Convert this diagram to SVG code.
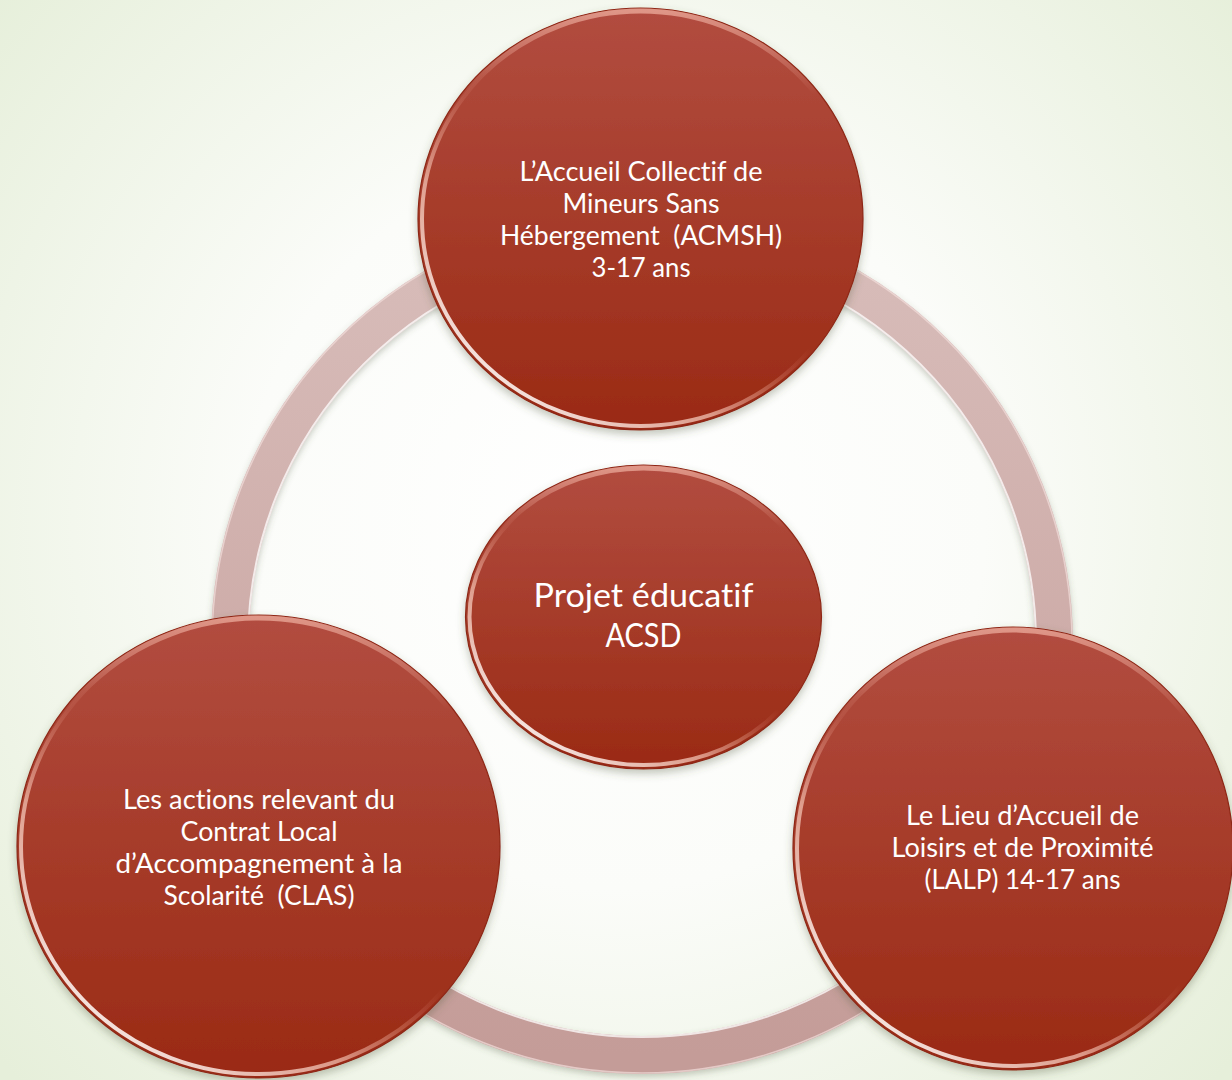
<svg xmlns="http://www.w3.org/2000/svg" width="1232" height="1080" viewBox="0 0 1232 1080">
  <defs>
    <radialGradient id="bg" cx="616" cy="520" r="820" gradientUnits="userSpaceOnUse">
      <stop offset="0" stop-color="#FFFFFF"/>
      <stop offset="0.45" stop-color="#FBFCF9"/>
      <stop offset="1" stop-color="#E6EFDA"/>
    </radialGradient>
    <linearGradient id="fillRed" x1="0" y1="0" x2="0" y2="1">
      <stop offset="0" stop-color="#B24D40"/>
      <stop offset="1" stop-color="#9A2A14"/>
    </linearGradient>
    <linearGradient id="rimLight" x1="0.1" y1="0.9" x2="0.8" y2="0.1">
      <stop offset="0" stop-color="#FFFFFF" stop-opacity="0.95"/>
      <stop offset="0.3" stop-color="#F6C6B6" stop-opacity="0.7"/>
      <stop offset="0.55" stop-color="#E08A78" stop-opacity="0"/>
    </linearGradient>
    <linearGradient id="rimTop" x1="0" y1="0" x2="0" y2="1">
      <stop offset="0" stop-color="#E7A394" stop-opacity="0.85"/>
      <stop offset="0.2" stop-color="#E7A394" stop-opacity="0"/>
    </linearGradient>
    <linearGradient id="ringGrad" x1="0" y1="0" x2="0" y2="1">
      <stop offset="0" stop-color="#D8BDBA"/>
      <stop offset="1" stop-color="#C49C98"/>
    </linearGradient>
    <filter id="shadow" x="-20%" y="-20%" width="140%" height="140%">
      <feDropShadow dx="0" dy="4" stdDeviation="4" flood-color="#4E5A3C" flood-opacity="0.35"/>
    </filter>
    <filter id="ringShadow" x="-10%" y="-10%" width="120%" height="120%">
      <feDropShadow dx="0" dy="3" stdDeviation="3" flood-color="#4E5A3C" flood-opacity="0.3"/>
    </filter>
  </defs>
  <style>
    .disc { fill: url(#fillRed); stroke: #8E2614; stroke-width: 1.2; }
    .rim { fill: none; stroke: url(#rimLight); stroke-width: 4; }
    .rimTop { fill: none; stroke: url(#rimTop); stroke-width: 5; }
    .lbl { font-family: Lato, "Open Sans", "Liberation Sans", sans-serif; font-size: 26px; fill: #FFFFFF; text-anchor: middle; white-space: pre; font-variant-ligatures: none; font-feature-settings: "liga" 0, "clig" 0; }
    .big { font-size: 32px; }
  </style>

  <rect x="0" y="0" width="1232" height="1080" fill="url(#bg)"/>

  <g id="connectors">
    <circle cx="642" cy="643" r="412" fill="none" stroke="url(#ringGrad)" stroke-width="38" filter="url(#ringShadow)"/>
    <circle cx="642" cy="643" r="394" fill="none" stroke="#FFFFFF" stroke-opacity="0.75" stroke-width="2"/>
    <circle cx="642" cy="643" r="430" fill="none" stroke="#F2DEDB" stroke-opacity="0.7" stroke-width="1.5"/>
  </g>

  <g id="node-center">
    <ellipse class="disc" cx="643.5" cy="617" rx="178" ry="152" filter="url(#shadow)"/>
    <ellipse class="rim" cx="643.5" cy="617" rx="174" ry="148"/>
    <ellipse class="rimTop" cx="643.5" cy="617" rx="175" ry="149"/>
    <text class="lbl big" x="643.5" y="607" textLength="220" lengthAdjust="spacingAndGlyphs">Projet éducatif</text>
    <text class="lbl big" x="643.5" y="647" textLength="76" lengthAdjust="spacingAndGlyphs">ACSD</text>
  </g>

  <g id="node-top">
    <ellipse class="disc" cx="640.5" cy="219" rx="222.5" ry="211" filter="url(#shadow)"/>
    <ellipse class="rim" cx="640.5" cy="219" rx="218.5" ry="207"/>
    <ellipse class="rimTop" cx="640.5" cy="219" rx="219.5" ry="208"/>
    <text class="lbl" x="641" y="181" textLength="243" lengthAdjust="spacingAndGlyphs">L’Accueil Collectif de</text>
    <text class="lbl" x="641" y="213" textLength="157" lengthAdjust="spacingAndGlyphs">Mineurs Sans</text>
    <text class="lbl" x="641" y="245" textLength="282" lengthAdjust="spacingAndGlyphs">Hébergement  (ACMSH)</text>
    <text class="lbl" x="641" y="277" textLength="99" lengthAdjust="spacingAndGlyphs">3-17 ans</text>
  </g>

  <g id="node-left">
    <ellipse class="disc" cx="258.5" cy="846.5" rx="241.5" ry="231.5" filter="url(#shadow)"/>
    <ellipse class="rim" cx="258.5" cy="846.5" rx="237.5" ry="227.5"/>
    <ellipse class="rimTop" cx="258.5" cy="846.5" rx="238.5" ry="228.5"/>
    <text class="lbl" x="259" y="809" textLength="272" lengthAdjust="spacingAndGlyphs">Les actions relevant du</text>
    <text class="lbl" x="259" y="841" textLength="157" lengthAdjust="spacingAndGlyphs">Contrat Local</text>
    <text class="lbl" x="259" y="873" textLength="287" lengthAdjust="spacingAndGlyphs">d’Accompagnement à la</text>
    <text class="lbl" x="259" y="905" textLength="191" lengthAdjust="spacingAndGlyphs">Scolarité  (CLAS)</text>
  </g>

  <g id="node-right">
    <ellipse class="disc" cx="1013" cy="848.5" rx="220" ry="221.5" filter="url(#shadow)"/>
    <ellipse class="rim" cx="1013" cy="848.5" rx="216" ry="217.5"/>
    <ellipse class="rimTop" cx="1013" cy="848.5" rx="217" ry="218.5"/>
    <text class="lbl" x="1022.5" y="825" textLength="233" lengthAdjust="spacingAndGlyphs">Le Lieu d’Accueil de</text>
    <text class="lbl" x="1022.5" y="857" textLength="262" lengthAdjust="spacingAndGlyphs">Loisirs et de Proximité</text>
    <text class="lbl" x="1022.5" y="889" textLength="196" lengthAdjust="spacingAndGlyphs">(LALP) 14-17 ans</text>
  </g>
</svg>
